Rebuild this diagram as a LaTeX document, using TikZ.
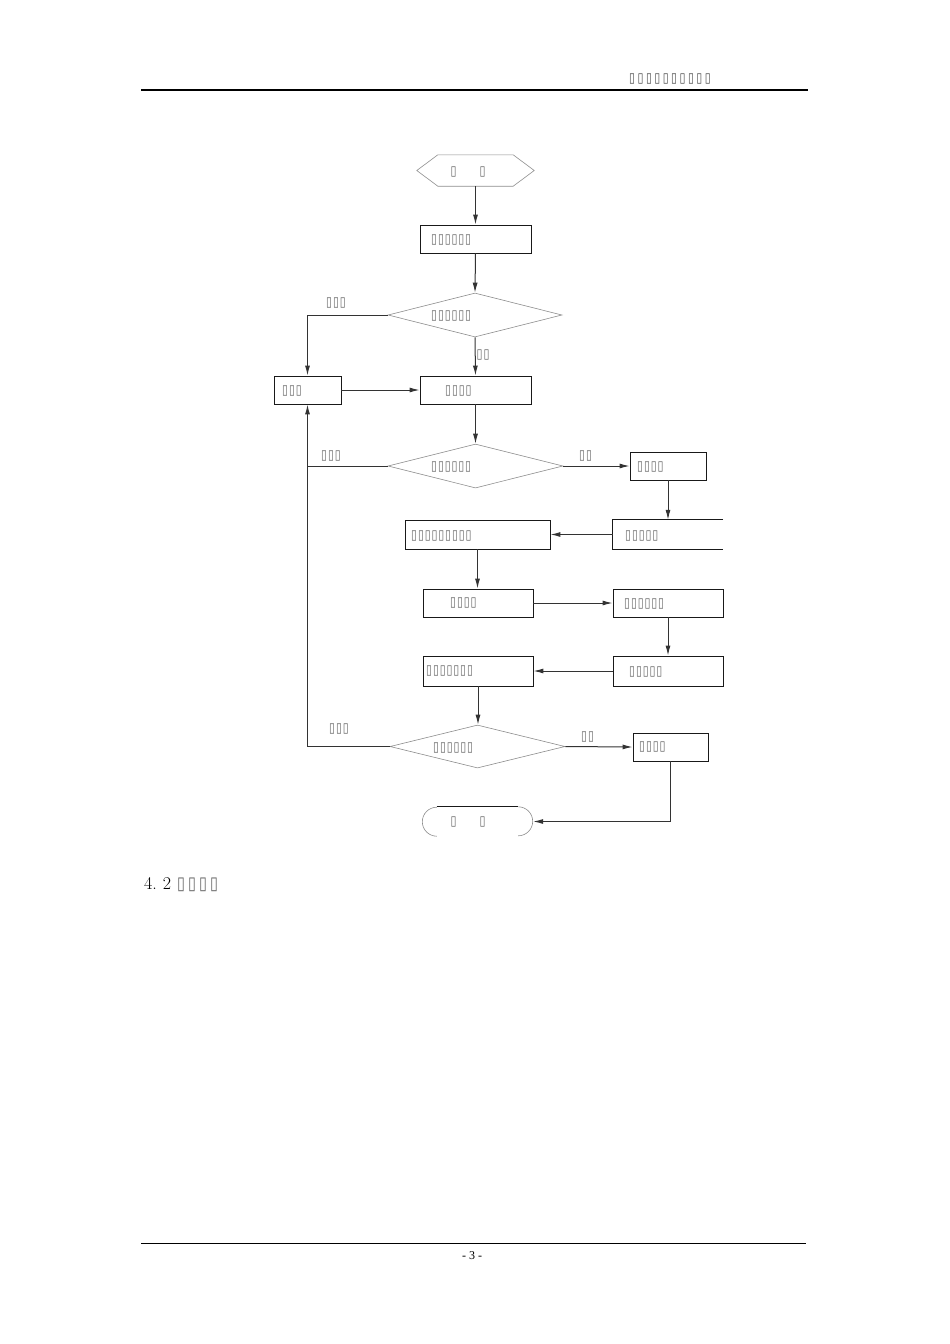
\documentclass[tikz,border=0pt]{standalone}
\usepackage{fontspec}
\usepackage{graphicx}
\usetikzlibrary{arrows.meta,shapes.geometric}
\newfontfamily\tofufont{DejaVu Sans}
\newfontfamily\footfont{Liberation Serif}
\newcount\tfcnt
% #1 = number of glyphs, #2 = pitch
\newcommand\tfs[2]{\tfcnt=0\loop\ifnum\tfcnt<#1\makebox[#2][l]{\scalebox{0.8}[1]{▯}}\advance\tfcnt by 1\repeat}
\begin{document}
\begin{tikzpicture}[x=1pt,y=-1pt,
  box/.style={draw=black!90,line width=0.9pt,rectangle,inner sep=0pt},
  openbox/.style={rectangle,inner sep=0pt},
  dec/.style={draw=black!45,line width=0.6pt,diamond,inner sep=0pt},
  txt/.style={anchor=west,inner sep=0pt,text=black!60,font=\tofufont\fontsize{13.5}{13.5}\selectfont},
  conn/.style={draw=black!80,line width=1pt},
  arr/.style={conn,-{Latex[length=10pt,width=5pt]}},
  term/.style={draw=black!45,line width=0.6pt}]
\useasboundingbox (0,0) rectangle (950,1344);
% header & footer
\draw[line width=2pt] (141,89.5) coordinate (hl) -- (808,89.5) coordinate (hr);
\node[txt,text=black!70] (htext) at (629,78.5) {\tfs{10}{8.4pt}};
\draw[line width=1.2pt] (141,1243.5) coordinate (fl) -- (806,1243.5) coordinate (fr);
\node[inner sep=0pt,font=\footfont\fontsize{12}{12}\selectfont] (page) at (472,1256) {- 3 -};
\node[anchor=west,inner sep=0pt,font=\fontsize{18}{18}\selectfont] (sec) at (144,885)
  {4.\hspace{6pt}2\hspace{6pt}\textcolor{black!60}{\tofufont\fontsize{18}{18}\selectfont\tfs{4}{11pt}}};
% start (hexagon)
\node[openbox,minimum width=117pt,minimum height=31pt] (start) at (475.5,170.5) {};
\draw[term] (start.west) -- ([xshift=21pt]start.north west) -- ([xshift=-21pt]start.north east)
  -- (start.east) -- ([xshift=-21pt]start.south east) -- ([xshift=21pt]start.south west) -- cycle;
\node[txt] (startt1) at (450.5,172) {\tfs{1}{7pt}};
\node[txt] (startt2) at (479.5,172) {\tfs{1}{7pt}};
% boxes
\node[box,minimum width=111pt,minimum height=28pt] (b1) at (475.5,239) {};
\node[txt] (b1t) at (431,240) {\tfs{6}{6.8pt}};
\node[dec,minimum width=174pt,minimum height=44pt] (d1) at (475,315) {};
\node[txt] (d1t) at (431,316) {\tfs{6}{6.8pt}};
\node[box,minimum width=67pt,minimum height=28pt] (bl) at (307.5,390) {};
\node[txt] (blt) at (282,391) {\tfs{3}{6.8pt}};
\node[box,minimum width=111pt,minimum height=28pt] (b2) at (475.5,390) {};
\node[txt] (b2t) at (445,391) {\tfs{4}{6.8pt}};
\node[dec,minimum width=175pt,minimum height=44pt] (d2) at (475.5,466) {};
\node[txt] (d2t) at (431,467) {\tfs{6}{6.8pt}};
\node[box,minimum width=76pt,minimum height=28pt] (b3) at (668,466) {};
\node[txt] (b3t) at (637,467) {\tfs{4}{6.8pt}};
\node[openbox,minimum width=110pt,minimum height=29pt] (b4) at (668,534.5) {};
\draw[draw=black!90,line width=0.9pt] (b4.north east) -- (b4.north west) -- (b4.south west) -- (b4.south east);
\node[txt] (b4t) at (625,536) {\tfs{5}{6.8pt}};
\node[box,minimum width=145pt,minimum height=29pt] (b5) at (477.5,534.5) {};
\node[txt] (b5t) at (411,536) {\tfs{9}{6.8pt}};
\node[box,minimum width=110pt,minimum height=28pt] (b6) at (478,603) {};
\node[txt] (b6t) at (450,603) {\tfs{4}{6.8pt}};
\node[box,minimum width=110pt,minimum height=28pt] (b7) at (668,603) {};
\node[txt] (b7t) at (624,604) {\tfs{6}{6.8pt}};
\node[box,minimum width=110pt,minimum height=30pt] (b8) at (668,671) {};
\node[txt] (b8t) at (629,672) {\tfs{5}{6.8pt}};
\node[box,minimum width=110pt,minimum height=30pt] (b9) at (478,671) {};
\node[txt] (b9t) at (426,671) {\tfs{7}{6.8pt}};
\node[dec,minimum width=175pt,minimum height=43pt] (d3) at (477.5,746.5) {};
\node[txt] (d3t) at (433,748) {\tfs{6}{6.8pt}};
\node[box,minimum width=75pt,minimum height=28pt] (b10) at (670.5,747) {};
\node[txt] (b10t) at (639,747) {\tfs{4}{6.8pt}};
% end terminal
\node[openbox,minimum width=111pt,minimum height=29pt] (end) at (477.5,821.5) {};
\draw[term] ([xshift=15pt]end.south west) arc[start angle=270,end angle=90,radius=14.5pt];
\draw[term] ([xshift=-15pt]end.north east) arc[start angle=90,end angle=-90,radius=14.5pt];
\draw[draw=black!90,line width=0.9pt] ([xshift=15pt]end.north west) -- ([xshift=-15pt]end.north east);
\node[txt] (endt1) at (450.5,822) {\tfs{1}{7pt}};
\node[txt] (endt2) at (479.5,822) {\tfs{1}{7pt}};
% connectors
\draw[arr] (start.south) -- (b1.north);
\draw[arr] (b1.south) -- (d1.north);
\draw[arr] (d1.west) -| (bl.north);
\node[txt] (l1) at (326,303) {\tfs{3}{6.8pt}};
\draw[arr] (d1.south) -- (b2.north);
\node[txt] (l2) at (476.5,355) {\tfs{2}{6.8pt}};
\draw[arr] (bl.east) -- (b2.west);
\draw[arr] (b2.south) -- (d2.north);
\draw[conn] (d2.west) -- (bl.south |- d2.west);
\node[txt] (l3) at (321,456) {\tfs{3}{6.8pt}};
\draw[arr] (d2.east) -- (b3.west);
\node[txt] (l4) at (579,456) {\tfs{2}{6.8pt}};
\draw[arr] (b3.south) -- (b4.north);
\draw[arr] (b4.west) -- (b5.east);
\draw[arr] (b5.south) -- (b5.south |- b6.north);
\draw[arr] (b6.east) -- (b7.west);
\draw[arr] (b7.south) -- (b8.north);
\draw[arr] (b8.west) -- (b9.east);
\draw[arr] (b9.south) -- (b9.south |- d3.north);
\draw[arr] (d3.west) -| (bl.south);
\node[txt] (l5) at (329,729) {\tfs{3}{6.8pt}};
\draw[arr] (d3.east) -- (b10.west);
\node[txt] (l6) at (581,737) {\tfs{2}{6.8pt}};
\draw[arr] (b10.south) |- (end.east);
\end{tikzpicture}
\end{document}
